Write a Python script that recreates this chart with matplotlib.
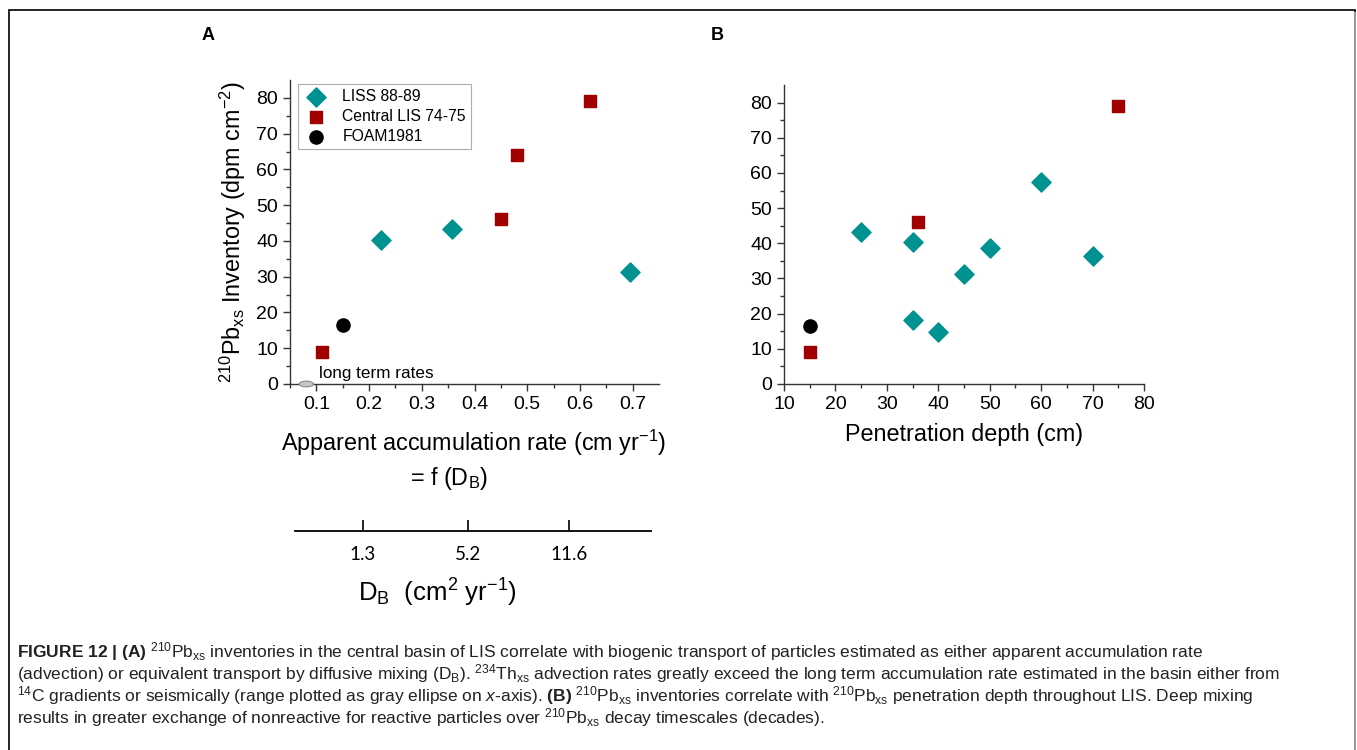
import matplotlib
matplotlib.use("Agg")
from matplotlib import pyplot as plt
from matplotlib.patches import Ellipse, Rectangle

plt.rcParams['font.family'] = ['Liberation Sans', 'DejaVu Sans']
plt.rcParams['mathtext.fontset'] = 'custom'
plt.rcParams['mathtext.rm'] = 'Liberation Sans'
plt.rcParams['mathtext.it'] = 'Liberation Sans:italic'
plt.rcParams['mathtext.bf'] = 'Liberation Sans:bold'

# panel A: apparent accumulation rate vs inventory
liss_rate = [0.222, 0.357, 0.695]
liss_inv_a = [40.3, 43.3, 31.2]
clis_rate = [0.11, 0.45, 0.48, 0.62]
clis_inv_a = [9.0, 46.0, 64.0, 79.0]
foam_rate = [0.15]
foam_inv_a = [16.5]
longterm_x = 0.081
longterm_w = 0.027

# D_B scale under panel A
db_pos = [0.188, 0.388, 0.58]
db_labels = ["1.3", "5.2", "11.6"]

# panel B: penetration depth vs inventory
liss_depth = [25, 35, 35, 40, 45, 50, 60, 70]
liss_inv_b = [43.2, 40.3, 18.3, 14.7, 31.2, 38.8, 57.5, 36.3]
clis_depth = [15, 36, 75]
clis_inv_b = [9.0, 46.0, 79.0]
foam_depth = [15]
foam_inv_b = [16.5]

teal = "#009191"
dred = "#a00000"

fig = plt.figure(figsize=(13.57, 7.5), dpi=100)

# outer frame
fig.patches.append(Rectangle((9/1357, -0.05), 1346/1357, 1.05 - 10/750, transform=fig.transFigure,
                             fill=False, edgecolor="black", lw=1.2))
fig.patches.append(Rectangle((1354/1357, -0.05), 2/1357, 1.05 - 12/750, transform=fig.transFigure,
                             facecolor="#999999", edgecolor="none"))

def style(ax):
    for s in ["top", "right"]:
        ax.spines[s].set_visible(False)
    for s in ["left", "bottom"]:
        ax.spines[s].set_color("#333333")
        ax.spines[s].set_linewidth(1.0)
    ax.tick_params(which="major", direction="out", length=5, width=1, labelsize=14, colors="#333333",
                   labelcolor="black")
    ax.tick_params(which="minor", direction="out", length=3, width=1, colors="#333333")

axA = fig.add_axes([290/1357, 1 - 384/750, 369/1357, 304/750])
axA.scatter(liss_rate, liss_inv_a, marker="D", s=95, color=teal, label="LISS 88-89", zorder=3)
axA.scatter(clis_rate, clis_inv_a, marker="s", s=80, color=dred, label="Central LIS 74-75", zorder=3)
axA.scatter(foam_rate, foam_inv_a, marker="o", s=90, color="black", label="FOAM1981", zorder=3)
axA.add_patch(Ellipse((longterm_x, 0), longterm_w, 1.6, facecolor="#c8c8c8", edgecolor="#888888",
                      lw=0.8, clip_on=False, zorder=4))
axA.text(0.105, 1.8, "long term rates", fontsize=12.3)
axA.set_xlim(0.05, 0.75)
axA.set_ylim(0, 85)
axA.set_xticks([0.1, 0.2, 0.3, 0.4, 0.5, 0.6, 0.7])
axA.set_xticks([0.05 + 0.1 * i for i in range(7)], minor=True)
axA.set_yticks(range(0, 81, 10))
axA.set_yticks(range(5, 85, 10), minor=True)
style(axA)
axA.set_ylabel("$^{210}$Pb$_{\\rm xs}$ Inventory (dpm cm$^{-2}$)", fontsize=16.8, labelpad=6)
leg = axA.legend(loc="upper left", bbox_to_anchor=(0.01, 1.0), fontsize=11.3, frameon=True, fancybox=False,
                 handletextpad=0.8, borderpad=0.35, labelspacing=0.3, handlelength=1.7, borderaxespad=0.25)
leg.get_frame().set_edgecolor("#999999")
leg.get_frame().set_linewidth(0.8)

fig.text(474/1357, 1 - 443/750, "Apparent accumulation rate (cm yr$^{-1}$)", fontsize=16.8,
         ha="center", va="center")
fig.text(449/1357, 1 - 478/750, "= f (D$_{\\rm B}$)", fontsize=16.8, ha="center", va="center")

# D_B scale
axD = fig.add_axes([290/1357, 1 - 531/750, 369/1357, 0.001])
axD.set_xlim(0.05, 0.75)
for s in ["top", "right", "left"]:
    axD.spines[s].set_visible(False)
axD.spines["bottom"].set_bounds(0.059, 0.734)
axD.spines["bottom"].set_linewidth(1.3)
axD.set_yticks([])
axD.set_xticks(db_pos)
axD.set_xticklabels(db_labels, fontfamily="Lato", fontsize=13.5)
axD.tick_params(axis="x", direction="in", length=8, width=1.2, pad=11)
axD.patch.set_visible(False)
fig.text(437/1357, 1 - 593/750, "D$_{\\rm B}$  (cm$^{2}$ yr$^{-1}$)", fontsize=18.5, ha="center",
         va="center")

axB = fig.add_axes([784/1357, 1 - 384/750, 360/1357, 299/750])
axB.scatter(liss_depth, liss_inv_b, marker="D", s=95, color=teal, zorder=3)
axB.scatter(clis_depth, clis_inv_b, marker="s", s=80, color=dred, zorder=3)
axB.scatter(foam_depth, foam_inv_b, marker="o", s=90, color="black", zorder=3)
axB.set_xlim(10, 80)
axB.set_ylim(0, 85)
axB.set_xticks(range(10, 81, 10))
axB.set_xticks(range(15, 80, 10), minor=True)
axB.set_yticks(range(0, 81, 10))
axB.set_yticks(range(5, 85, 10), minor=True)
style(axB)
axB.set_xlabel("Penetration depth (cm)", fontsize=16.8, labelpad=7)

fig.text(208/1357, 1 - 35/750, "A", fontsize=13, fontweight="bold", ha="center", va="center")
fig.text(717/1357, 1 - 35/750, "B", fontsize=13, fontweight="bold", ha="center", va="center")

pb = "$^{210}$Pb$_{\\rm xs}$"
cap = [
    "$\\bf{FIGURE\\ 12\\ |\\ (A)}$ " + pb + " inventories in the central basin of LIS correlate with biogenic "
    "transport of particles estimated as either apparent accumulation rate",
    "(advection) or equivalent transport by diffusive mixing (D$_{\\rm B}$). $^{234}$Th$_{\\rm xs}$ advection rates "
    "greatly exceed the long term accumulation rate estimated in the basin either from",
    "$^{14}$C gradients or seismically (range plotted as gray ellipse on $\\it{x}$-axis). $\\bf{(B)}$ " + pb +
    " inventories correlate with " + pb + " penetration depth throughout LIS. Deep mixing",
    "results in greater exchange of nonreactive for reactive particles over " + pb + " decay timescales (decades).",
]
ys = [652, 674, 696, 718]
for line, y in zip(cap, ys):
    fig.text(17/1357, 1 - y/750, line, fontsize=12.5, color="#222222", ha="left", va="center")

fig.savefig("out.png", dpi=100)
